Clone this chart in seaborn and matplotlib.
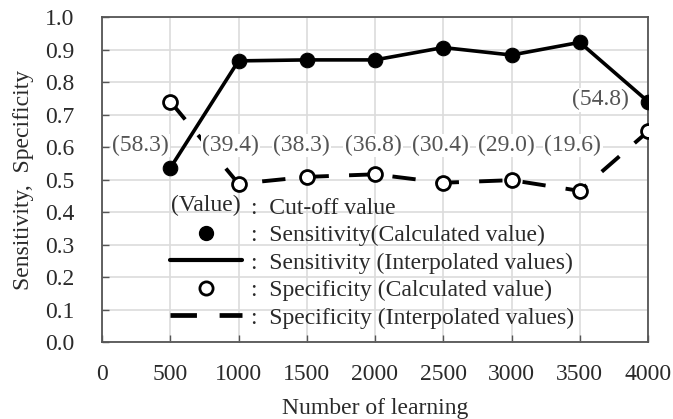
import numpy as np
import pandas as pd
import matplotlib
matplotlib.use("Agg")
import matplotlib.pyplot as plt
import seaborn as sns
from matplotlib.lines import Line2D
from matplotlib.legend_handler import HandlerBase
from matplotlib.text import Text

# ---- data ----
learning = [500, 1000, 1500, 2000, 2500, 3000, 3500, 4000]
sensitivity = [0.535, 0.865, 0.868, 0.868, 0.906, 0.883, 0.922, 0.740]
specificity = [0.740, 0.487, 0.508, 0.516, 0.490, 0.498, 0.465, 0.648]
cutoff_labels = ["(58.3)", "(39.4)", "(38.3)", "(36.8)", "(30.4)", "(29.0)", "(19.6)", "(54.8)"]
xticks = [0, 500, 1000, 1500, 2000, 2500, 3000, 3500, 4000]
yticks = [0.0, 0.1, 0.2, 0.3, 0.4, 0.5, 0.6, 0.7, 0.8, 0.9, 1.0]

# label placement (layout only)
label_x = [280, 940, 1460, 1985, 2480, 2960, 3450, 3650]
label_y = [0.605, 0.605, 0.605, 0.605, 0.605, 0.605, 0.605, 0.745]

df = pd.DataFrame({"learning": learning, "sens": sensitivity, "spec": specificity})

sns.set_theme(style="white")
plt.rcParams["font.family"] = ["Liberation Serif", "DejaVu Serif"]

fig = plt.figure(figsize=(6.73, 4.19), dpi=100)
ax = fig.add_axes([102 / 673, 1 - 342 / 419, 546 / 673, 325 / 419])

fs = 17
txt_col = "#2a2a2a"
frame_col = "#555555"

ax.set_xlim(0, 4000)
ax.set_ylim(0, 1.0)
ax.set_xticks(xticks)
ax.set_yticks(yticks)
ax.set_xticklabels([str(v) for v in xticks], fontsize=fs, color=txt_col)
ax.set_yticklabels([f"{v:.1f}" for v in yticks], fontsize=fs, color=txt_col)
ax.grid(True, color="#dcdcdc", lw=1.2, zorder=0)
ax.tick_params(axis="both", direction="in", length=5, width=1, color=frame_col)
ax.tick_params(axis="x", top=False, bottom=True, pad=16)
ax.tick_params(axis="y", left=True, right=False, pad=20)
for s in ax.spines.values():
    s.set_color(frame_col)
    s.set_linewidth(1.3)

# sensitivity
sns.lineplot(data=df, x="learning", y="sens", ax=ax, color="black", lw=2.6,
             marker="o", markersize=10.5, markerfacecolor="black", markeredgecolor="black",
             zorder=4, legend=False)
# specificity
sns.lineplot(data=df, x="learning", y="spec", ax=ax, color="black", lw=2.8,
             linestyle=(0, (6.0, 5.2)), marker="o", markersize=10,
             markerfacecolor="white", markeredgecolor="black", markeredgewidth=2.0,
             zorder=4, legend=False)

for lx, ly, t in zip(label_x, label_y, cutoff_labels):
    ax.text(lx, ly, t, fontsize=fs, color="#555555", ha="center", va="center", zorder=5,
            bbox=dict(boxstyle="square,pad=0.05", fc="white", ec="none"))

ax.set_xlabel("Number of learning", fontsize=fs, color=txt_col, labelpad=9)
ax.set_ylabel("Sensitivity,  Specificity", fontsize=fs, color=txt_col, labelpad=8)


class TextHandle:
    def __init__(self, s):
        self.s = s


class HandlerText(HandlerBase):
    def create_artists(self, legend, orig_handle, xdescent, ydescent, width, height,
                       fontsize, trans):
        t = Text(x=width / 2 - xdescent, y=height / 2 - ydescent, text=orig_handle.s,
                 fontsize=fontsize, ha="center", va="center", color=txt_col,
                 family=["Liberation Serif", "DejaVu Serif"])
        t.set_transform(trans)
        return [t]


handles = [
    TextHandle("(Value)"),
    Line2D([], [], ls="none", marker="o", color="black", markersize=10),
    Line2D([], [], color="black", lw=3.0),
    Line2D([], [], ls="none", marker="o", markerfacecolor="white", markeredgecolor="black",
           markeredgewidth=2.0, markersize=9.5),
    Line2D([], [], color="black", lw=3.4, linestyle=(0, (5.6, 4.8))),
]
labels = [
    ":  Cut-off value",
    ":  Sensitivity(Calculated value)",
    ":  Sensitivity (Interpolated values)",
    ":  Specificity (Calculated value)",
    ":  Specificity (Interpolated values)",
]
leg = ax.legend(handles, labels, handler_map={TextHandle: HandlerText()},
                loc="upper left", bbox_to_anchor=(0.125, 0.445), frameon=False,
                fontsize=fs, handlelength=3.05, handletextpad=0.35, labelspacing=0.25,
                borderpad=0, borderaxespad=0)
for t in leg.get_texts():
    t.set_color(txt_col)

fig.savefig("out.png", dpi=100)
